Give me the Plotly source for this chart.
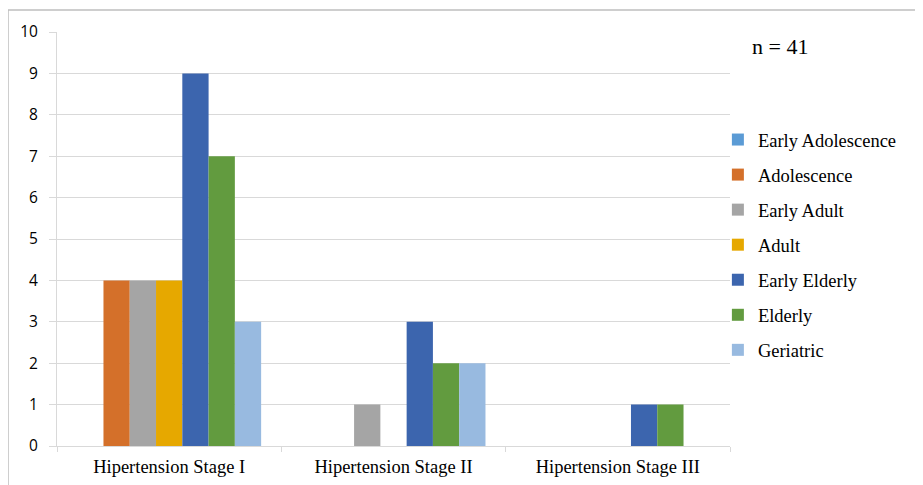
import plotly.graph_objects as go

categories = ["Hipertension Stage I", "Hipertension Stage II", "Hipertension Stage III"]
series_names = ["Early Adolescence", "Adolescence", "Early Adult", "Adult",
                "Early Elderly", "Elderly", "Geriatric"]
early_adolescence = [0, 0, 0]
adolescence = [4, 0, 0]
early_adult = [4, 1, 0]
adult = [4, 0, 0]
early_elderly = [9, 3, 1]
elderly = [7, 2, 1]
geriatric = [3, 2, 0]
values = [early_adolescence, adolescence, early_adult, adult, early_elderly, elderly, geriatric]
colors = ["#5B9BD5", "#D4702A", "#A5A5A5", "#E6A800", "#3C65AE", "#629B3F", "#98BAE0"]
y_ticks = list(range(0, 11))

SERIF = "Liberation Serif, Times New Roman, serif"

fig = go.Figure()
for i, (name, vals, col) in enumerate(zip(series_names, values, colors)):
    fig.add_trace(go.Bar(x=categories, y=vals, name=name, marker_color=col,
                         marker_line_width=0, legendgroup=f"g{i}"))

grid = "#D9D9D9"
fig.update_layout(
    width=923, height=485,
    margin=dict(l=49, r=201, t=24, b=47),
    paper_bgcolor="white", plot_bgcolor="white",
    barmode="group", bargap=0.18, bargroupgap=0,
    font=dict(family=SERIF, color="#000000"),
    legend=dict(x=0.982, y=0.785, xanchor="left", yanchor="top",
                font=dict(size=18.5, family=SERIF, color="#000000"),
                tracegroupgap=8, itemwidth=30, bgcolor="rgba(0,0,0,0)"),
    xaxis=dict(showgrid=False, showline=True, linecolor=grid, linewidth=1,
               ticks="outside", tickson="boundaries", ticklen=5, tickcolor=grid,
               tickfont=dict(size=18.5, family=SERIF), ticklabelstandoff=4),
    yaxis=dict(range=[0, 10], tickvals=y_ticks, showgrid=True, gridcolor=grid,
               showline=True, linecolor=grid, linewidth=1, zeroline=False,
               ticks="outside", ticklen=7, tickcolor=grid,
               tickfont=dict(size=15.5, family="Open Sans, DejaVu Sans, sans-serif"),
               ticklabelstandoff=8),
    annotations=[dict(text="n = 41", x=1.0297, y=0.9638, xref="paper", yref="paper",
                      xanchor="left", yanchor="middle", showarrow=False,
                      font=dict(size=22, family=SERIF))],
    shapes=[dict(type="rect", xref="paper", yref="paper",
                 x0=-0.0728, x1=1.285, y0=-0.115, y1=1.053,
                 line=dict(color="#BFBFBF", width=1.5))],
)
fig.write_html("out.html")
